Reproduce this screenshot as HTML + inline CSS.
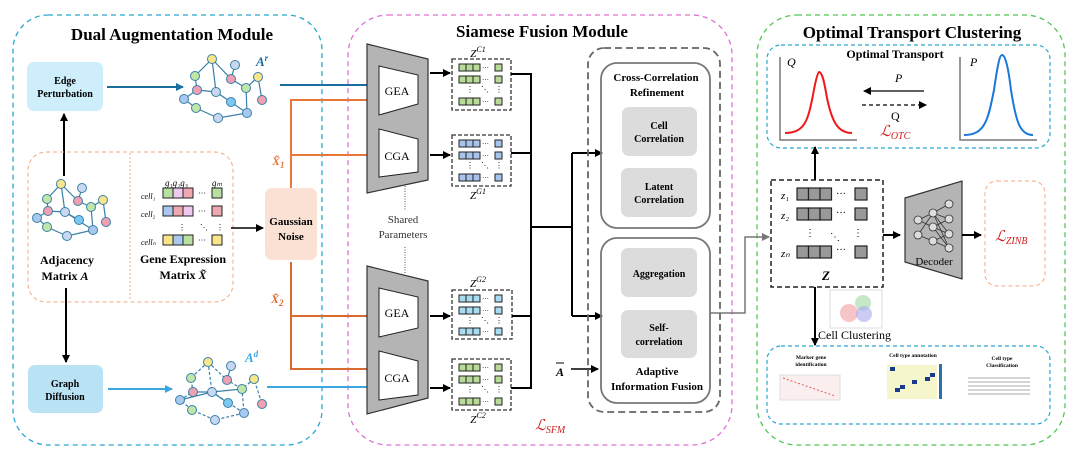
<!DOCTYPE html>
<html><head><meta charset="utf-8"><style>
html,body{margin:0;padding:0;background:#fff;width:1080px;height:462px;overflow:hidden}
svg{display:block}
text{font-family:"Liberation Serif",serif}
.b{font-weight:bold}
</style></head><body>
<svg width="1080" height="462" viewBox="0 0 1080 462" xmlns="http://www.w3.org/2000/svg">
<defs>
<marker id="ak" markerWidth="8" markerHeight="8" refX="7" refY="4" orient="auto" markerUnits="userSpaceOnUse"><path d="M0,0 L8,4 L0,8 z" fill="#000"/></marker>
<marker id="ab" markerWidth="8" markerHeight="8" refX="7" refY="4" orient="auto" markerUnits="userSpaceOnUse"><path d="M0,0 L8,4 L0,8 z" fill="#1a6fa0"/></marker>
<marker id="alb" markerWidth="8" markerHeight="8" refX="7" refY="4" orient="auto" markerUnits="userSpaceOnUse"><path d="M0,0 L8,4 L0,8 z" fill="#3aa8e0"/></marker>
<marker id="ao" markerWidth="8" markerHeight="8" refX="7" refY="4" orient="auto" markerUnits="userSpaceOnUse"><path d="M0,0 L8,4 L0,8 z" fill="#e07030"/></marker>
<marker id="ag" markerWidth="8" markerHeight="8" refX="7" refY="4" orient="auto" markerUnits="userSpaceOnUse"><path d="M0,0 L8,4 L0,8 z" fill="#777"/></marker>
<g id="zrow"><rect x="0" y="0" width="7" height="7" stroke="#222" stroke-width="1"/><rect x="7" y="0" width="7" height="7" stroke="#222" stroke-width="1"/><rect x="14" y="0" width="7" height="7" stroke="#222" stroke-width="1"/><text x="23" y="6" font-size="7" fill="#000">···</text><rect x="36" y="0" width="7" height="7" stroke="#222" stroke-width="1"/></g>
</defs>

<rect x="13" y="15" width="309" height="430" rx="35" fill="none" stroke="#29a8d0" stroke-width="1.3" stroke-dasharray="5,4"/>
<rect x="348" y="15" width="384" height="430" rx="40" fill="none" stroke="#e070d8" stroke-width="1.3" stroke-dasharray="5,4"/>
<rect x="757" y="15" width="308" height="430" rx="40" fill="none" stroke="#50c850" stroke-width="1.3" stroke-dasharray="5,4"/>
<text x="172" y="40" class="b" font-size="17" text-anchor="middle">Dual Augmentation Module</text>
<text x="542" y="37" class="b" font-size="17" text-anchor="middle">Siamese Fusion Module</text>
<text x="912" y="38" class="b" font-size="17" text-anchor="middle">Optimal Transport Clustering</text>

<rect x="27" y="62" width="76" height="49" rx="7" fill="#cdeefa"/>
<text x="65" y="84" class="b" font-size="10" text-anchor="middle">Edge</text>
<text x="65" y="97" class="b" font-size="10" text-anchor="middle">Perturbation</text>
<rect x="28" y="365" width="75" height="48" rx="7" fill="#b9e2f5"/>
<text x="65" y="387" class="b" font-size="10" text-anchor="middle">Graph</text>
<text x="65" y="400" class="b" font-size="10" text-anchor="middle">Diffusion</text>
<line x1="107" y1="87" x2="183" y2="87" stroke="#1a6fa0" stroke-width="2" marker-end="url(#ab)"/>
<line x1="108" y1="389" x2="172" y2="389" stroke="#3aa8e0" stroke-width="2" marker-end="url(#alb)"/>
<line x1="64" y1="176" x2="64" y2="114" stroke="#000" stroke-width="2" marker-end="url(#ak)"/>
<line x1="66" y1="288" x2="66" y2="362" stroke="#000" stroke-width="2" marker-end="url(#ak)"/>
<rect x="28" y="152" width="205" height="150" rx="18" fill="none" stroke="#f4a880" stroke-width="1" stroke-dasharray="4,3"/>
<line x1="130" y1="153" x2="130" y2="301" stroke="#f4a880" stroke-dasharray="2,2"/>

<g stroke="#3a80a8" stroke-width="1.2" fill="none">
<path d="M212,59 L195,76 L197,90 L184,99 L196,108 L218,118 L247,113 L246,88 L258,77 L262,100 M212,59 L216,92 L231,102 M212,59 L231,79 L246,88 M216,92 L247,113 M197,90 L216,92 M235,65 L231,79"/>
</g>
<g stroke="#3a80a8" stroke-width="1">
<circle cx="212" cy="59" r="4.5" fill="#f8e68a"/><circle cx="235" cy="65" r="4.5" fill="#c8d8f0"/><circle cx="195" cy="76" r="4.5" fill="#c0e6a8"/><circle cx="231" cy="79" r="4.5" fill="#f0a0b0"/><circle cx="258" cy="77" r="4.5" fill="#f8e68a"/><circle cx="197" cy="90" r="4.5" fill="#f0a0b0"/><circle cx="216" cy="92" r="4.5" fill="#c8d8f0"/><circle cx="246" cy="88" r="4.5" fill="#c0e6a8"/><circle cx="262" cy="100" r="4.5" fill="#f0a0b0"/><circle cx="184" cy="99" r="4.5" fill="#a8c8f0"/><circle cx="231" cy="102" r="4.5" fill="#7cc8f0"/><circle cx="196" cy="108" r="4.5" fill="#c0e6a8"/><circle cx="247" cy="113" r="4.5" fill="#a8c8f0"/><circle cx="218" cy="118" r="4.5" fill="#c8d8f0"/>
</g>
<text x="256" y="66" font-size="13" fill="#1a6fa0" class="b" font-style="italic">A<tspan font-size="9" dy="-5">r</tspan></text>
<g stroke="#3a80a8" stroke-width="1.2" fill="none">
<path d="M61,184 L47,199 L48,211 L37,218 L47,227 L67,236 L93,230 L91,207 L103,200 L106,222 M61,184 L65,212 L79,220 M61,184 L78,201 L91,207 M65,212 L93,230 M48,211 L65,212 M82,188 L78,201"/>
</g>
<g stroke="#3a80a8" stroke-width="1">
<circle cx="61" cy="184" r="4.5" fill="#f8e68a"/><circle cx="82" cy="188" r="4.5" fill="#c8d8f0"/><circle cx="47" cy="199" r="4.5" fill="#c0e6a8"/><circle cx="78" cy="201" r="4.5" fill="#f0a0b0"/><circle cx="103" cy="200" r="4.5" fill="#f8e68a"/><circle cx="48" cy="211" r="4.5" fill="#f0a0b0"/><circle cx="65" cy="212" r="4.5" fill="#c8d8f0"/><circle cx="91" cy="207" r="4.5" fill="#c0e6a8"/><circle cx="106" cy="222" r="4.5" fill="#f0a0b0"/><circle cx="37" cy="218" r="4.5" fill="#a8c8f0"/><circle cx="79" cy="220" r="4.5" fill="#7cc8f0"/><circle cx="47" cy="227" r="4.5" fill="#c0e6a8"/><circle cx="93" cy="230" r="4.5" fill="#a8c8f0"/><circle cx="67" cy="236" r="4.5" fill="#c8d8f0"/>
</g>
<text x="67" y="264" class="b" font-size="12" text-anchor="middle">Adjacency</text>
<text x="65" y="280" class="b" font-size="12" text-anchor="middle">Matrix <tspan font-style="italic">A</tspan></text>
<g stroke="#3a80a8" stroke-width="1.2" fill="none">
<path d="M208,362 L191,378 L193,392 L180,400 L192,410 L215,420 L244,413 L242,389 L254,379 L262,404 M208,362 L212,392 L228,403 M208,362 L227,380 L242,389 M212,392 L244,413" stroke-dasharray="3,2"/>
<path d="M193,392 L212,392 L242,389 M180,400 L212,392 L228,403 M231,366 L227,380"/>
</g>
<g stroke="#3a80a8" stroke-width="1">
<circle cx="208" cy="362" r="4.5" fill="#f8e68a"/><circle cx="231" cy="366" r="4.5" fill="#c8d8f0"/><circle cx="191" cy="378" r="4.5" fill="#c0e6a8"/><circle cx="227" cy="380" r="4.5" fill="#f0a0b0"/><circle cx="254" cy="379" r="4.5" fill="#f8e68a"/><circle cx="193" cy="392" r="4.5" fill="#f0a0b0"/><circle cx="212" cy="392" r="4.5" fill="#c8d8f0"/><circle cx="242" cy="389" r="4.5" fill="#c0e6a8"/><circle cx="262" cy="404" r="4.5" fill="#f0a0b0"/><circle cx="180" cy="400" r="4.5" fill="#a8c8f0"/><circle cx="228" cy="403" r="4.5" fill="#7cc8f0"/><circle cx="192" cy="410" r="4.5" fill="#c0e6a8"/><circle cx="244" cy="413" r="4.5" fill="#a8c8f0"/><circle cx="215" cy="420" r="4.5" fill="#c8d8f0"/>
</g>
<text x="245" y="362" font-size="13" fill="#3aa8e0" class="b" font-style="italic">A<tspan font-size="9" dy="-5">d</tspan></text>

<text x="165" y="186" font-size="9" font-style="italic">g₁g₂g₃</text><text x="212" y="186" font-size="9" font-style="italic">gₘ</text>
<text x="141" y="199" font-size="8" font-style="italic">cell₁</text>
<rect x="163" y="188" width="10" height="10" fill="#b8e0a0" stroke="#222"/><rect x="173" y="188" width="10" height="10" fill="#f0c8f0" stroke="#222"/><rect x="183" y="188" width="10" height="10" fill="#f0a8b0" stroke="#222"/><text x="198" y="196" font-size="8">···</text><rect x="212" y="188" width="10" height="10" fill="#b8e0a0" stroke="#222"/>
<text x="141" y="217" font-size="8" font-style="italic">cell₂</text>
<rect x="163" y="206" width="10" height="10" fill="#a8c8f0" stroke="#222"/><rect x="173" y="206" width="10" height="10" fill="#f0a8b0" stroke="#222"/><rect x="183" y="206" width="10" height="10" fill="#f0c8f0" stroke="#222"/><text x="198" y="214" font-size="8">···</text><rect x="212" y="206" width="10" height="10" fill="#f0a8b0" stroke="#222"/>
<text x="178" y="230" font-size="8">⋮</text><text x="200" y="230" font-size="8">⋱</text><text x="216" y="230" font-size="8">⋮</text>
<text x="141" y="245" font-size="8" font-style="italic">cellₙ</text>
<rect x="163" y="235" width="10" height="10" fill="#f8e68a" stroke="#222"/><rect x="173" y="235" width="10" height="10" fill="#a8c8f0" stroke="#222"/><rect x="183" y="235" width="10" height="10" fill="#b8e0a0" stroke="#222"/><text x="198" y="243" font-size="8">···</text><rect x="212" y="235" width="10" height="10" fill="#f8e68a" stroke="#222"/>
<text x="183" y="263" class="b" font-size="12" text-anchor="middle">Gene Expression</text>
<text x="183" y="279" class="b" font-size="12" text-anchor="middle">Matrix <tspan font-style="italic">X̃</tspan></text>
<line x1="231" y1="228" x2="263" y2="228" stroke="#000" stroke-width="1.5" marker-end="url(#ak)"/>
<rect x="265" y="188" width="52" height="72" rx="7" fill="#fbe1d3"/>
<text x="291" y="225" class="b" font-size="11" text-anchor="middle">Gaussian</text>
<text x="291" y="240" class="b" font-size="11" text-anchor="middle">Noise</text>

<g fill="none" stroke-width="2">
<path d="M291,188 V100 H376" stroke="#e8783a" marker-end="url(#ao)"/>
<path d="M291,155 H376" stroke="#e8783a" marker-end="url(#ao)"/>
<path d="M291,262 V369 H376" stroke="#d86a30" marker-end="url(#ao)"/>
<path d="M291,316 H376" stroke="#d86a30" marker-end="url(#ao)"/>
<path d="M280,85 H376" stroke="#1a6fa0" marker-end="url(#ab)"/>
<path d="M267,387 H376" stroke="#3aa8e0" marker-end="url(#alb)"/>
</g>
<text x="272" y="165" font-size="12" fill="#e8783a" class="b" font-style="italic">X̃<tspan font-size="9" dy="3">1</tspan></text>
<text x="271" y="303" font-size="12" fill="#d86a30" class="b" font-style="italic">X̃<tspan font-size="9" dy="3">2</tspan></text>

<polygon points="367,44 428,59 428,180 367,193" fill="#b4b4b4" stroke="#333" stroke-width="1.2"/>
<polygon points="379,66 418,75 418,104 379,115" fill="#fff" stroke="#222"/>
<polygon points="379,129 418,139 418,172 379,177" fill="#fff" stroke="#222"/>
<polygon points="367,266 428,281 428,398 367,414" fill="#b4b4b4" stroke="#333" stroke-width="1.2"/>
<polygon points="379,288 418,297 418,328 379,337" fill="#fff" stroke="#222"/>
<polygon points="379,351 418,361 418,395 379,400" fill="#fff" stroke="#222"/>
<text x="397" y="95" font-size="12" text-anchor="middle">GEA</text>
<text x="397" y="160" font-size="12" text-anchor="middle">CGA</text>
<text x="397" y="317" font-size="12" text-anchor="middle">GEA</text>
<text x="397" y="382" font-size="12" text-anchor="middle">CGA</text>
<line x1="405" y1="186" x2="405" y2="211" stroke="#555" stroke-dasharray="1,1.5"/>
<line x1="405" y1="247" x2="405" y2="273" stroke="#555" stroke-dasharray="1,1.5"/>
<text x="403" y="223" font-size="11" text-anchor="middle" fill="#333">Shared</text>
<text x="403" y="238" font-size="11" text-anchor="middle" fill="#333">Parameters</text>
<g stroke="#000" stroke-width="2">
<line x1="430" y1="73" x2="450" y2="73" marker-end="url(#ak)"/>
<line x1="430" y1="155" x2="450" y2="155" marker-end="url(#ak)"/>
<line x1="430" y1="316" x2="450" y2="316" marker-end="url(#ak)"/>
<line x1="430" y1="388" x2="450" y2="388" marker-end="url(#ak)"/>
</g>
<g fill="none" stroke="#333" stroke-dasharray="4,2" stroke-width="1.3">
<rect x="452" y="59" width="59" height="51"/><rect x="452" y="135" width="59" height="51"/><rect x="452" y="290" width="60" height="49"/><rect x="452" y="359" width="59" height="51"/>
</g>
<g fill="#b8dc98"><use href="#zrow" x="459" y="64"/><use href="#zrow" x="459" y="76"/><use href="#zrow" x="459" y="98"/></g>
<g fill="#a8c4ec"><use href="#zrow" x="459" y="140"/><use href="#zrow" x="459" y="152"/><use href="#zrow" x="459" y="174"/></g>
<g fill="#a8dcf0"><use href="#zrow" x="459" y="295"/><use href="#zrow" x="459" y="307"/><use href="#zrow" x="459" y="328"/></g>
<g fill="#b8dc98"><use href="#zrow" x="459" y="364"/><use href="#zrow" x="459" y="376"/><use href="#zrow" x="459" y="398"/></g>
<g font-size="8"><text x="466" y="92">⋮</text><text x="481" y="92">⋱</text><text x="495" y="92">⋮</text>
<text x="466" y="168">⋮</text><text x="481" y="168">⋱</text><text x="495" y="168">⋮</text>
<text x="466" y="323">⋮</text><text x="481" y="323">⋱</text><text x="495" y="323">⋮</text>
<text x="466" y="392">⋮</text><text x="481" y="392">⋱</text><text x="495" y="392">⋮</text></g>
<g font-size="11" font-style="italic" text-anchor="middle">
<text x="478" y="57">Z<tspan font-size="8" dy="-5">C1</tspan></text>
<text x="478" y="199">Z<tspan font-size="8" dy="-5">G1</tspan></text>
<text x="478" y="287">Z<tspan font-size="8" dy="-5">G2</tspan></text>
<text x="478" y="423">Z<tspan font-size="8" dy="-5">C2</tspan></text>
</g>
<g fill="none" stroke="#000" stroke-width="2">
<path d="M511,74 H531 V388 H511 M511,153 H531 M512,316 H531 M531,227 H572 V316 M572,227 V153"/>
<line x1="572" y1="153" x2="602" y2="153" marker-end="url(#ak)"/>
<line x1="572" y1="316" x2="602" y2="316" marker-end="url(#ak)"/>
<line x1="571" y1="369" x2="598" y2="369" stroke-width="1.5" marker-end="url(#ak)"/>
</g>
<text x="556" y="376" font-size="12" font-style="italic" class="b">A</text><line x1="556" y1="363" x2="564" y2="363" stroke="#000"/>
<rect x="588" y="48" width="132" height="364" rx="16" fill="none" stroke="#666" stroke-width="1.8" stroke-dasharray="7,4"/>
<rect x="601" y="63" width="109" height="165" rx="16" fill="none" stroke="#777" stroke-width="1.8"/>
<rect x="601" y="238" width="109" height="165" rx="16" fill="none" stroke="#777" stroke-width="1.8"/>
<g fill="#dcdcdc"><rect x="622" y="107" width="75" height="49" rx="7"/><rect x="621" y="168" width="76" height="49" rx="7"/><rect x="621" y="248" width="76" height="49" rx="7"/><rect x="621" y="310" width="76" height="48" rx="7"/></g>
<g class="b" text-anchor="middle" font-size="11">
<text x="656" y="81">Cross-Correlation</text><text x="657" y="96">Refinement</text>
<text x="659" y="129" font-size="10">Cell</text><text x="659" y="142" font-size="10">Correlation</text>
<text x="659" y="190" font-size="10">Latent</text><text x="659" y="203" font-size="10">Correlation</text>
<text x="659" y="277" font-size="10">Aggregation</text>
<text x="659" y="331" font-size="10">Self-</text><text x="659" y="345" font-size="10">correlation</text>
<text x="657" y="375">Adaptive</text><text x="657" y="390">Information Fusion</text>
</g>
<text x="535" y="430" font-size="15" fill="#d02020" font-style="italic">ℒ<tspan font-size="10" dy="3">SFM</tspan></text>
<path d="M710,313 H745 V237 H769" fill="none" stroke="#777" stroke-width="1.5" marker-end="url(#ag)"/>

<rect x="767" y="45" width="283" height="103" rx="14" fill="none" stroke="#29a8d0" stroke-width="1.2" stroke-dasharray="4,3"/>
<text x="895" y="58" class="b" font-size="12" text-anchor="middle">Optimal Transport</text>
<path d="M780,57 V140 H857 M960,57 V140 H1037" fill="none" stroke="#777" stroke-width="1.5"/>
<text x="787" y="66" font-size="12" font-style="italic">Q</text>
<text x="970" y="66" font-size="12" font-style="italic">P</text>
<path d="M785,133 C805,133 808,120 813,95 C816,78 818,72 819,72 C822,72 824,80 827,98 C832,122 838,133 852,133" fill="none" stroke="#f01818" stroke-width="2"/>
<path d="M964,135 C985,135 988,120 994,90 C998,62 1000,55 1002,55 C1005,55 1008,65 1011,90 C1016,122 1020,135 1033,135" fill="none" stroke="#1a78d8" stroke-width="2"/>
<line x1="924" y1="91" x2="864" y2="91" stroke="#000" stroke-width="1.3" marker-end="url(#ak)"/>
<line x1="862" y1="105" x2="926" y2="105" stroke="#000" stroke-width="1.3" stroke-dasharray="4,3" marker-end="url(#ak)"/>
<text x="895" y="82" font-size="12" font-style="italic">P</text>
<text x="891" y="120" font-size="12">Q</text>
<text x="880" y="136" font-size="15" fill="#d02020" font-style="italic">ℒ<tspan font-size="10" dy="3">OTC</tspan></text>
<line x1="815" y1="180" x2="815" y2="147" stroke="#000" stroke-width="2" marker-end="url(#ak)"/>
<rect x="771" y="180" width="112" height="107" fill="none" stroke="#222" stroke-width="1.5" stroke-dasharray="5,3"/>
<g fill="#999" stroke="#222" stroke-width="1.2">
<rect x="797" y="188" width="11.5" height="12"/><rect x="808.5" y="188" width="11.5" height="12"/><rect x="820" y="188" width="11.5" height="12"/><rect x="855" y="188" width="12" height="12"/>
<rect x="797" y="208" width="11.5" height="12"/><rect x="808.5" y="208" width="11.5" height="12"/><rect x="820" y="208" width="11.5" height="12"/><rect x="855" y="208" width="12" height="12"/>
<rect x="797" y="246" width="11.5" height="12"/><rect x="808.5" y="246" width="11.5" height="12"/><rect x="820" y="246" width="11.5" height="12"/><rect x="855" y="246" width="12" height="12"/>
</g>
<g font-size="11" font-style="italic"><text x="781" y="199">z₁</text><text x="781" y="219">z₂</text><text x="781" y="257">zₙ</text></g>
<g font-size="10"><text x="836" y="197">···</text><text x="836" y="216">···</text><text x="836" y="253">···</text><text x="805" y="236">⋮</text><text x="830" y="240">⋱</text><text x="853" y="236">⋮</text></g>
<text x="826" y="280" font-size="13" class="b" font-style="italic" text-anchor="middle">Z</text>
<line x1="883" y1="235" x2="900" y2="235" stroke="#000" stroke-width="2" marker-end="url(#ak)"/>
<polygon points="905,198 962,181 962,279 905,262" fill="#b4b4b4" stroke="#333" stroke-width="1.2"/>
<g stroke="#333" stroke-width="0.8" fill="#ddd">
<path d="M918,220 L933,213 L949,204 M918,220 L933,227 L949,219 M918,235 L933,213 L949,234 M918,235 L933,241 L949,248 M933,213 L949,219 M933,227 L949,234 M933,241 L949,234 M933,227 L949,248 M933,213 L949,248" fill="none"/>
<circle cx="918" cy="220" r="4"/><circle cx="918" cy="235" r="4"/><circle cx="933" cy="213" r="4"/><circle cx="933" cy="227" r="4"/><circle cx="933" cy="241" r="4"/><circle cx="949" cy="204" r="4"/><circle cx="949" cy="219" r="4"/><circle cx="949" cy="234" r="4"/><circle cx="949" cy="248" r="4"/>
</g>
<text x="934" y="265" font-size="11" text-anchor="middle">Decoder</text>
<line x1="962" y1="235" x2="981" y2="235" stroke="#000" stroke-width="2" marker-end="url(#ak)"/>
<rect x="985" y="181" width="60" height="105" rx="12" fill="none" stroke="#f4a880" stroke-dasharray="4,3"/>
<text x="995" y="241" font-size="15" fill="#d02020" font-style="italic">ℒ<tspan font-size="10" dy="3">ZINB</tspan></text>
<line x1="815" y1="287" x2="815" y2="345" stroke="#000" stroke-width="2" marker-end="url(#ak)"/>
<rect x="830" y="290" width="52" height="38" fill="#fff" stroke="#ddd"/>
<circle cx="849" cy="313" r="9" fill="#f0a0a0" opacity="0.6"/><circle cx="863" cy="303" r="8" fill="#a0d8a0" opacity="0.6"/><circle cx="864" cy="314" r="8" fill="#a8a8f0" opacity="0.6"/>
<text x="818" y="339" font-size="12">Cell Clustering</text>
<rect x="767" y="346" width="283" height="78" rx="14" fill="none" stroke="#29a8d0" stroke-width="1.2" stroke-dasharray="4,3"/>
<g font-size="5.5" class="b" text-anchor="middle"><text x="811" y="359">Marker gene</text><text x="811" y="366">identification</text><text x="913" y="357">Cell type annotation</text><text x="1002" y="360">Cell type</text><text x="1002" y="367">Classification</text></g>
<rect x="780" y="375" width="60" height="25" fill="#fbeeee" stroke="#ddd"/>
<line x1="783" y1="378" x2="835" y2="396" stroke="#e06060" stroke-dasharray="2,2"/>
<rect x="887" y="365" width="50" height="34" fill="#f6f6cc"/>
<g fill="#1a3a90"><rect x="890" y="367" width="5" height="4"/><rect x="930" y="373" width="5" height="4"/><rect x="912" y="380" width="5" height="4"/><rect x="895" y="388" width="5" height="4"/><rect x="900" y="385" width="5" height="4"/><rect x="925" y="377" width="5" height="4"/></g>
<rect x="939" y="364" width="3" height="35" fill="#2a70b0"/>
<g stroke="#555" stroke-width="0.5"><line x1="968" y1="378" x2="1030" y2="378"/><line x1="968" y1="382" x2="1030" y2="382"/><line x1="968" y1="386" x2="1030" y2="386"/><line x1="968" y1="390" x2="1030" y2="390"/><line x1="968" y1="394" x2="1030" y2="394"/></g>
</svg>
</body></html>
